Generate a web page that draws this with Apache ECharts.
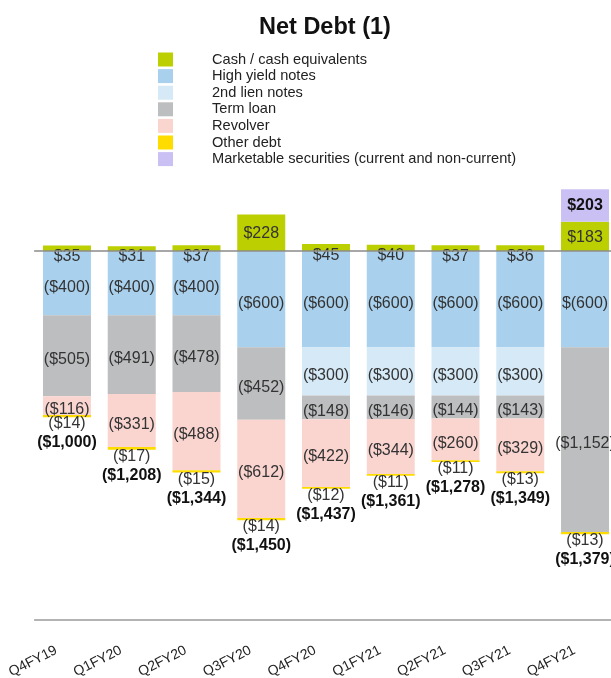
<!DOCTYPE html>
<html>
<head>
<meta charset="utf-8">
<script src="https://cdn.jsdelivr.net/npm/echarts@6/dist/echarts.min.js"></script>
<style>
html,body{margin:0;padding:0;background:#fff;}
#chart{width:611px;height:678px;}
</style>
</head>
<body>
<div id="chart"></div>
<script>
var categories = ['Q4FY19','Q1FY20','Q2FY20','Q3FY20','Q4FY20','Q1FY21','Q2FY21','Q3FY21','Q4FY21'];
var cash = [35, 31, 37, 228, 45, 40, 37, 36, 183];
var highYield = [-400, -400, -400, -600, -600, -600, -600, -600, -600];
var secondLien = [null, null, null, null, -300, -300, -300, -300, null];
var termLoan = [-505, -491, -478, -452, -148, -146, -144, -143, -1152];
var revolver = [-116, -331, -488, -612, -422, -344, -260, -329, null];
var otherDebt = [-14, -17, -15, -14, -12, -11, -11, -13, -13];
var securities = [null, null, null, null, null, null, null, null, 203];
var netDebt = [-1000, -1208, -1344, -1450, -1437, -1361, -1278, -1349, -1379];
var labelOverrides = { 'High yield notes|8': '$(600)' };

var seriesNames = ['Cash / cash equivalents','High yield notes','2nd lien notes','Term loan','Revolver','Other debt','Marketable securities (current and non-current)'];
var colors = ['#bccf00','#a9d1ee','#d5e9f7','#bdbebf','#fad5d0','#ffdc00','#cbc0f3'];

function money(v) {
  var a = Math.abs(v).toLocaleString('en-US');
  return v < 0 ? '($' + a + ')' : '$' + a;
}
var FONT = '"Liberation Sans", Arial, Helvetica, sans-serif';
var TXT = '#333';

function mkSeries(name, idx, data, extra) {
  var s = {
    name: name,
    type: 'bar',
    stack: 'total',
    barWidth: 48,
    xAxisIndex: 0,
    itemStyle: { color: colors[idx] },
    label: {
      show: true,
      position: 'inside',
      offset: [0, 4],
      color: TXT,
      fontSize: 16,
      fontFamily: FONT,
      formatter: function (p) {
        if (p.value == null) return '';
        var k = name + '|' + p.dataIndex;
        return labelOverrides[k] || money(p.value);
      }
    },
    data: data
  };
  if (extra) extra(s);
  return s;
}

var series = [
  mkSeries(seriesNames[0], 0, cash.map(function (v) {
    return { value: v, label: { offset: v < 100 ? [0, 8] : [0, 1] } };
  })),
  mkSeries(seriesNames[1], 1, highYield),
  mkSeries(seriesNames[2], 2, secondLien),
  mkSeries(seriesNames[3], 3, termLoan),
  mkSeries(seriesNames[4], 4, revolver),
  mkSeries(seriesNames[5], 5, otherDebt, function (s) {
    s.label = {
      show: true,
      position: 'bottom',
      distance: -3,
      offset: [0, 0],
      color: TXT,
      fontFamily: FONT,
      formatter: function (p) {
        return '{a|' + money(p.value) + '}\n{b|' + money(netDebt[p.dataIndex]) + '}';
      },
      rich: {
        a: { fontSize: 16, lineHeight: 19, color: TXT, fontFamily: FONT, align: 'center' },
        b: { fontSize: 16, lineHeight: 19, fontWeight: 'bold', color: '#111', fontFamily: FONT, align: 'center' }
      }
    };
  }),
  mkSeries(seriesNames[6], 6, securities, function (s) {
    s.label.fontWeight = 'bold';
    s.label.color = '#111';
    s.label.offset = [0, 0];
  })
];

var chart = echarts.init(document.getElementById('chart'), null, { renderer: 'canvas' });
chart.setOption({
  animation: false,
  backgroundColor: '#fff',
  title: {
    text: 'Net Debt (1)',
    left: 254,
    top: 11,
    textStyle: { fontSize: 23.5, fontWeight: 'bold', color: '#111', fontFamily: FONT }
  },
  legend: {
    orient: 'vertical',
    left: 153,
    top: 47,
    itemWidth: 15,
    itemHeight: 14,
    itemGap: 1.6,
    icon: 'rect',
    selectedMode: false,
    data: seriesNames,
    textStyle: { fontSize: 14.6, lineHeight: 14, color: '#222', fontFamily: FONT, padding: [0, 0, 0, 34] }
  },
  grid: { left: 34.6, width: 582.8, top: 187, bottom: 58, containLabel: false, outerBoundsMode: 'none' },
  xAxis: [
    {
      type: 'category',
      data: categories,
      axisLine: { show: true, onZero: true, lineStyle: { color: '#8a8a8a', width: 1.5 } },
      axisTick: { show: false },
      axisLabel: { show: false },
      z: 10
    },
    {
      type: 'category',
      data: categories,
      position: 'bottom',
      axisLine: { show: true, onZero: false, lineStyle: { color: '#9a9a9a', width: 1.5 } },
      axisTick: { show: false },
      axisLabel: { show: true, rotate: 27, margin: 24, fontSize: 14, color: '#222', fontFamily: FONT, padding: [0, 12, 0, 0] }
    }
  ],
  yAxis: {
    type: 'value',
    min: -2300,
    max: 400,
    interval: 100,
    show: false,
    splitLine: { show: false }
  },
  series: series
});
</script>
</body>
</html>
